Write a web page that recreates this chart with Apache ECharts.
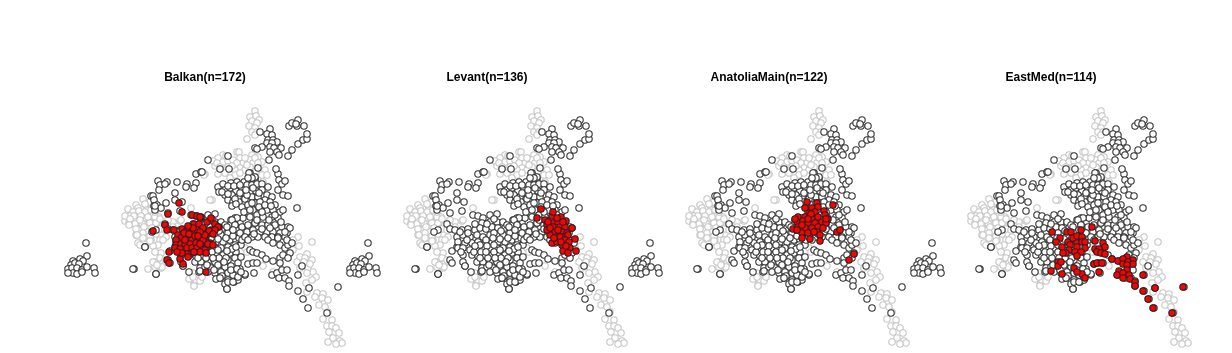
<!DOCTYPE html>
<html>
<head>
<meta charset="utf-8">
<style>html,body{margin:0;padding:0;background:#fff}#chart{width:1232px;height:353px}</style>
<script src="https://cdn.jsdelivr.net/npm/echarts@6/dist/echarts.min.js"></script>
</head>
<body>
<div id="chart"></div>
<script>
const regions = ['Balkan', 'Levant', 'AnatoliaMain', 'EastMed'];
const counts = [172, 136, 122, 114];

// values, [pc1, pc2] (pc2 axis runs downwards)
const grayPoints = [
  [255,111],[250,117],[256,116],[259,120],[252,121],[257,123],[249,126],[255,128],[252,132],[257,132],[247,139],[255,135],
  [237,152],[239,152],[223,155],[218,158],[213,161],[215,166],[223,162],[228,161],[233,160],[240,158],[252,155],[258,157],[250,160],[243,163],[237,163],[253,163],[262,162],[240,168],[250,167],[245,170],[235,170],[218,174],[225,173],[235,175],[230,178],[265,170],[262,175],[267,175],[205,174],[212,200],[217,163],[263,182],
  [220,167],[228,167],[232,166],[245,158],[247,165],[255,158],[258,163],[226,156],[256,171],[240,173],
  [204,175],[191,208],[210,200],[143,199],[136,205],[128,209],[146,205],[138,208],[147,210],[150,202],[133,212],[130,216],[137,217],[145,218],[125,221],[152,216],[135,221],[159,217],[140,223],[150,222],[129,223],[173,222],[180,221],
  [145,204],[139,211],[145,212],[151,210],[125,216],[134,216],[141,216],[148,217],[155,217],[130,219],[135,224],[142,223],[150,223],[156,223],[129,225],[160,219],[163,225],[136,235],[141,230],[148,232],[156,234],[138,243],[145,238],[151,240],[160,240],[166,237],[181,220],[173,227],
  [136,229],[144,227],[152,228],[160,229],[168,220],[143,233],[150,236],[158,245],[153,246],[165,230],[140,220],[155,212],
  [161,253],[155,252],[148,269],[155,262],[160,258],[158,265],[163,263],[155,267],[161,268],[190,278],[198,277],[193,273],[194,285],[200,280],[196,280],[189,279],[194,286],[200,281],[193,277],[153,262],[162,267],[157,265],[165,260],[150,241],[163,240],[140,245],[137,235],[143,238],
  [298,237],[312,242],[293,240],[293,250],[300,257],[307,254],[305,258],[312,260],[297,262],[300,268],[308,268],[313,272],[307,273],[316,277],[312,280],[306,283],[307,292],[317,293],[323,294],[315,297],[322,298],[328,300],[319,305],[325,307],[328,312],[323,319],[332,320],[327,326],[332,326],[336,328],[329,332],[339,333],[333,338],[328,342],[340,341],[342,343],[336,344],
  [245,248],[247,252],[263,266],[273,272],[202,277],[299,246],[304,262],[310,264]
];

const blackPoints = [
  [208,160],[196,174],[201,172],[177,182],[158,181],[160,185],[167,182],[165,184],[159,190],[187,184],[186,187],[196,183],[194,188],[175,193],[151,196],[153,196],[154,200],[166,203],[175,200],[182,202],[157,205],[154,206],[161,208],[155,210],[180,211],[155,206],[156,230],[152,232],[145,247],[134,269],[156,274],[170,251],[168,260],[170,263],[189,272],[175,247],[165,224],[168,213],[183,266],[199,272],
  [191,215],[196,216],[201,218],[208,215],[215,214],[200,223],[208,222],[215,222],[221,222],[231,220],[235,218],[240,223],
  [168,229],[173,230],[180,230],[186,229],[193,230],[198,228],[204,229],[210,227],[216,228],[223,228],[230,225],[235,225],[241,228],[248,227],[255,223],
  [175,237],[181,235],[188,237],[195,235],[201,237],[208,235],[215,235],[221,235],[228,233],[235,232],[241,235],[246,233],
  [176,242],[183,243],[190,243],[196,242],[203,243],[210,242],[216,242],[223,242],[230,240],[236,240],
  [176,248],[181,248],[188,250],[195,248],[201,248],[208,248],[215,248],[221,248],[228,247],[235,245],[241,245],
  [181,255],[190,255],[196,256],[203,255],[210,255],[216,255],[223,255],[230,253],[236,252],
  [181,262],[195,262],[201,262],[208,262],[215,262],[221,262],[228,260],[235,258],
  [183,266],[200,268],[205,267],[211,268],[218,268],[225,267],[231,266],[238,263],
  [200,271],[208,272],[215,273],[221,272],[228,273],[233,275],[240,269],[245,275],[220,278],[228,280],[234,282],[238,280],[227,289],
  [212,233],[218,239],[204,240],[198,245],[192,252],[206,258],[212,252],[226,238],[232,249],[226,258],[218,265],[236,229],[243,231],[239,238],
  [178,232],[185,240],[193,246],[199,252],[205,246],[211,238],[219,231],[225,225],[233,236],[227,251],[219,258],[213,258],[207,265],[204,252],[198,258],[214,270],[222,276],[231,270],[237,269],[224,262],[236,247],[242,240],[212,245],[218,250],[205,224],[212,219],[193,224],[186,233],[179,252],[225,284],[216,279],[241,257],
  [218,187],[223,184],[231,183],[237,182],[244,182],[250,178],[255,179],[250,173],[219,192],[225,190],[230,188],[236,191],[242,188],[247,185],[252,185],[257,184],[262,184],[268,187],[225,195],[232,195],[238,197],[243,193],[250,192],[256,191],[262,190],[267,195],[272,197],[228,200],[233,202],[239,202],[245,199],[252,197],[258,197],[265,200],[232,206],[242,207],[248,205],[255,203],[260,202],[270,202],[275,205],[247,213],[253,210],[260,208],[267,210],[280,212],[273,210],[272,217],[278,218],[283,210],[297,208],[250,217],[257,215],[263,217],[243,218],[237,218],[232,220],[227,227],[235,225],[242,227],[248,225],[255,223],[262,225],[268,225],[275,225],[282,227],[288,227],[233,230],[240,233],[247,232],[253,230],[260,232],[267,232],[273,232],[280,233],[287,233],[290,228],[245,237],[252,237],[258,237],[265,237],[272,237],[278,237],[285,237],
  [228,186],[234,186],[240,185],[222,192],[228,194],[235,199],[247,195],[253,188],[259,193],[240,193],[246,190],[236,204],[252,203],[259,207],[265,205],[271,206],[244,212],[250,210],[257,220],[269,220],[262,212],[275,215],[281,222],[285,232],[254,234],[248,240],[262,229],[270,228],
  [278,174],[279,180],[282,184],[285,181],[278,190],[283,195],[288,196],
  [228,156],[220,169],[229,169],[258,168],[276,169],[249,173],[255,177],[252,178],[248,178],[202,172],
  [260,132],[270,129],[267,134],[272,135],[268,140],[273,140],[277,142],[267,143],[272,143],[262,147],[255,148],[257,149],[270,147],[274,148],[281,148],[270,152],[277,152],[279,155],[269,160],[288,156],[292,150],[298,144],[303,140],[307,139],[307,134],[289,126],[292,123],[298,120],[297,126],[296,124],[304,126],
  [86,243],[87,256],[73,261],[80,259],[83,261],[71,265],[75,263],[79,264],[68,269],[72,268],[77,268],[82,270],[87,267],[73,273],[77,274],[82,272],[68,273],[94,268],[95,273],[133,269],[145,247],[156,274],
  [248,264],[253,263],[257,263],[254,273],[250,250],[253,252],[257,253],[262,255],[266,259],[273,261],[280,258],[272,275],[277,273],[282,270],[287,270],[279,278],[285,278],[289,281],[289,286],[298,275],[302,266],[298,291],[309,288],[338,287],[303,299],[308,308],[327,313],[227,289],[228,282],[233,282],[220,278],[238,277],[245,274],[241,272],
  [280,245],[285,248],[288,245],[290,253],[283,255],[280,263],[288,258],[268,240],[273,243],[278,238],[287,240],[292,243]
];

const balkanPoints = [
  [179,203],[168,214],[182,212],[192,215],[197,216],[201,217],[165,225],[167,230],[153,231],[174,230],[178,235],[182,229],[187,230],[194,224],[199,224],[207,222],[192,232],[197,230],[202,235],[206,237],[176,240],[182,237],[187,238],[192,240],[197,240],[176,245],[181,244],[185,244],[190,244],[196,243],[202,247],[207,247],[175,248],[180,249],[187,248],[192,248],[197,248],[169,252],[187,254],[192,253],[167,260],[169,263],[180,259],[183,264],[206,272],[205,250],[200,252],[210,243],[210,233],[204,242],[188,257],[207,232],[211,230],[215,224],[219,227],[206,242],[208,244],[213,245],[203,240],[206,253],[200,217],[211,218],[218,227],[215,230],[209,231],[203,228],[205,235],[213,234],[184,233],[189,234],[195,236],[200,232],[185,240],[200,244],[194,252],[182,253],[177,252],[198,236],[193,228],[188,226]
];

const levantPoints = [
  [259,209],[255,218],[270,216],[271,212],[263,220],[271,223],[279,217],[284,221],[276,222],[265,225],[271,227],[278,227],[283,227],[290,228],[266,230],[273,232],[280,232],[285,233],[268,235],[275,237],[281,237],[286,235],[293,239],[270,243],[275,242],[278,237],[283,240],[287,242],[281,246],[288,248],[294,251],[281,251],[286,253],[265,230],[276,230],[266,222],[275,218],[281,222],[268,228],[272,238],[279,242],[284,246]
];

const anatoliaPoints = [
  [243,202],[241,208],[248,208],[253,203],[254,207],[269,205],[251,212],[245,213],[260,211],[234,217],[241,217],[248,218],[254,217],[261,215],[264,219],[233,222],[239,221],[244,223],[251,223],[258,222],[262,223],[229,229],[234,227],[241,228],[248,228],[254,227],[259,228],[238,233],[244,233],[253,232],[256,235],[238,238],[246,239],[256,241],[273,232],[276,230],[290,254],[285,260],[233,230],[231,219],[262,219],[247,214],[250,232],[244,219],[238,225]
];

const eastMedPoints = [
  [246,227],[206,232],[221,232],[225,232],[235,230],[214,238],[210,242],[222,242],[227,238],[231,236],[236,237],[216,247],[224,245],[231,243],[236,242],[239,242],[239,248],[231,247],[223,250],[220,253],[217,253],[229,252],[235,252],[231,256],[249,241],[257,243],[259,247],[249,249],[253,249],[251,252],[255,253],[259,254],[266,259],[272,261],[281,257],[287,260],[277,259],[277,264],[282,262],[287,264],[281,265],[212,262],[212,266],[215,262],[248,264],[251,263],[256,263],[253,272],[228,268],[205,271],[216,274],[236,274],[239,278],[231,272],[273,271],[271,275],[281,270],[277,273],[283,275],[277,278],[284,279],[297,275],[289,282],[289,286],[297,291],[309,288],[337,287],[302,299],[307,308],[326,313]
];

const redSets = [balkanPoints, levantPoints, anatoliaPoints, eastMedPoints];

const PANEL_STEP = 282;
const grids = [], xAxes = [], yAxes = [], series = [], titles = [];

function addLayer(i, data, fill, stroke, z) {
  series.push({
    type: 'scatter',
    xAxisIndex: i,
    yAxisIndex: i,
    data: data,
    symbol: 'circle',
    symbolSize: 6.4,
    silent: true,
    z: z,
    animation: false,
    itemStyle: { color: fill, borderColor: stroke, borderWidth: 1.1, opacity: 1 }
  });
}

regions.forEach((name, i) => {
  grids.push({ left: 40 + PANEL_STEP * i, top: 0, width: 310, height: 353 });
  xAxes.push({ type: 'value', gridIndex: i, min: 40, max: 350, show: false });
  yAxes.push({ type: 'value', gridIndex: i, min: 0, max: 353, inverse: true, show: false });
  titles.push({
    text: name + '(n=' + counts[i] + ')',
    left: 205 + PANEL_STEP * i - 5,
    top: 67,
    textAlign: 'center',
    textStyle: { fontFamily: 'Liberation Sans', fontSize: 12, fontWeight: 'bold', color: '#000' }
  });
  addLayer(i, grayPoints, '#fff', '#c6c6c6', 2);
  addLayer(i, blackPoints, '#fff', '#333', 3);
  addLayer(i, redSets[i], '#f00', '#222', 4);
});

const chart = echarts.init(document.getElementById('chart'), null, { renderer: 'canvas' });
chart.setOption({
  backgroundColor: '#fff',
  animation: false,
  title: titles,
  grid: grids,
  xAxis: xAxes,
  yAxis: yAxes,
  series: series
});
</script>
</body>
</html>
